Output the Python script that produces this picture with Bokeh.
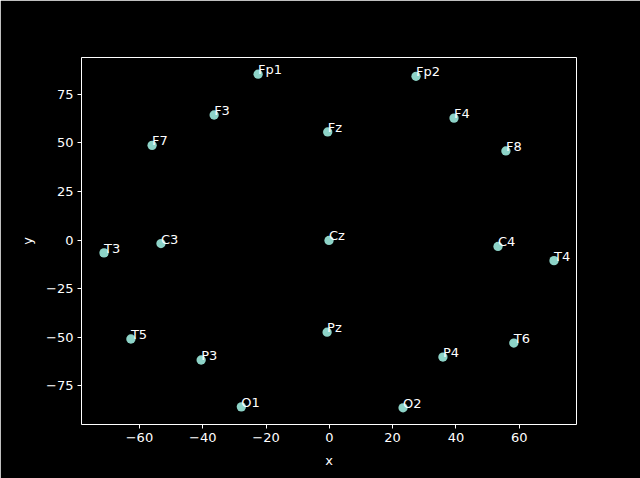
from bokeh.plotting import figure
from bokeh.models import ColumnDataSource, FixedTicker, Range1d
from bokeh.core.properties import value
from bokeh.embed import file_html
from bokeh.resources import INLINE

names = ["Fp1", "Fp2", "F3", "F4", "F7", "Fz", "F8", "C3", "Cz", "C4",
         "T3", "T4", "T5", "Pz", "T6", "P3", "P4", "O1", "O2"]
xs = [-22.5, 27.4, -36.4, 39.4, -56.0, -0.5, 55.8, -53.2, -0.1, 53.3,
      -71.2, 71.0, -62.7, -0.7, 58.3, -40.5, 35.9, -27.8, 23.3]
ys = [85.3, 84.2, 64.3, 62.7, 48.7, 55.6, 45.8, -1.8, -0.2, -3.3,
      -6.6, -10.6, -50.9, -47.4, -53.0, -61.7, -60.2, -85.8, -86.3]
x_ticks = [-60, -40, -20, 0, 20, 40, 60]
y_ticks = [-75, -50, -25, 0, 25, 50, 75]

src = ColumnDataSource(dict(x=xs, y=ys, name=names))

xmin, xmax = min(xs), max(xs)
ymin, ymax = min(ys), max(ys)
mx = (xmax - xmin) * 0.05
my = (ymax - ymin) * 0.05

p = figure(width=640, height=478, output_backend="svg", toolbar_location=None,
           x_range=Range1d(xmin - mx, xmax + mx), y_range=Range1d(ymin - my, ymax + my),
           min_border_left=81, min_border_right=64, min_border_top=57, min_border_bottom=54,
           frame_width=495, frame_height=367)
p.background_fill_color = "black"
p.border_fill_color = "black"
p.outline_line_color = "white"
p.outline_line_width = 1
p.grid.visible = False

p.scatter("x", "y", source=src, size=9.3, color="#8dd3c7", line_color=None)
p.text("x", "y", text="name", source=src, text_color="white",
       text_font=value("DejaVu Sans"), text_font_size="13px",
       text_baseline="bottom", text_align="left", y_offset=3)

for ax, ticks in ((p.xaxis[0], x_ticks), (p.yaxis[0], y_ticks)):
    ax.ticker = FixedTicker(ticks=ticks)
    ax.major_label_overrides = {t: (("\u2212" + str(-t)) if t < 0 else str(t)) for t in ticks}
    ax.axis_line_color = None
    ax.major_tick_line_color = "white"
    ax.major_tick_out = 4
    ax.major_tick_in = 0
    ax.minor_tick_line_color = None
    ax.major_label_text_color = "white"
    ax.major_label_text_font = "DejaVu Sans"
    ax.major_label_text_font_size = "13px"
    ax.axis_label_text_color = "white"
    ax.axis_label_text_font = "DejaVu Sans"
    ax.axis_label_text_font_size = "13px"
    ax.axis_label_text_font_style = "normal"
    ax.major_label_standoff = 4
    ax.axis_label_standoff = 8

p.xaxis.axis_label = "x"
p.yaxis.axis_label = "y"
p.yaxis.major_label_orientation = "horizontal"

open("out.html", "w").write(file_html(p, INLINE))
